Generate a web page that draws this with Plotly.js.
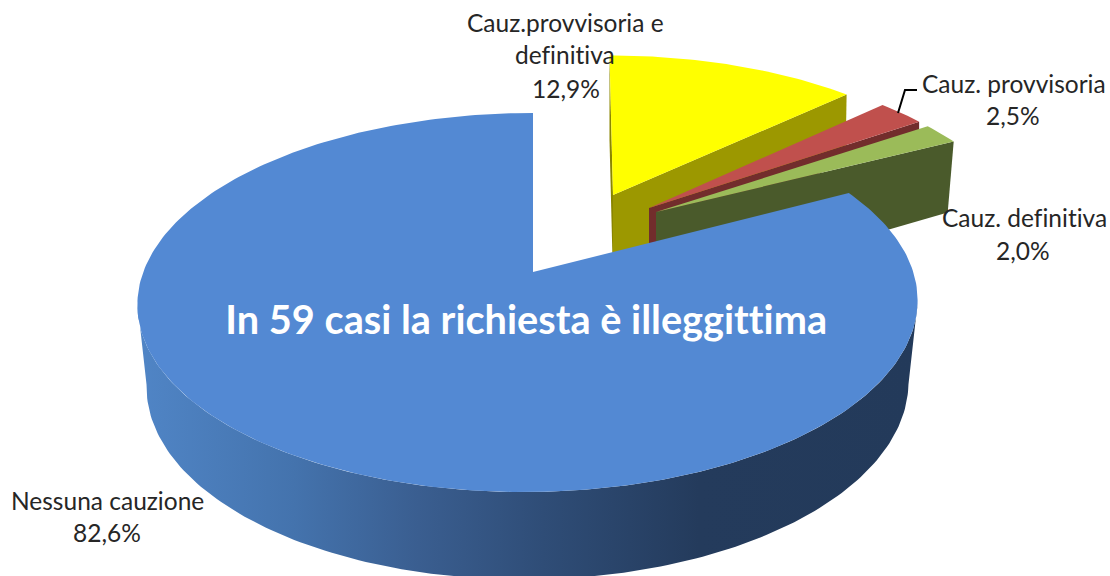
<!DOCTYPE html>
<html>
<head>
<meta charset="utf-8">
<script src="https://cdn.plot.ly/plotly-3.0.1.min.js"></script>
<style>html,body{margin:0;padding:0;background:#fff;overflow:hidden}#chart{width:1110px;height:576px}
#chart text{font-variant-ligatures:none;font-feature-settings:"liga" 0}</style>
</head>
<body>
<div id="chart"></div>
<script>
// ---- data (clockwise from 12 o'clock) ----
const categories = ["Cauz.provvisoria e definitiva", "Cauz. provvisoria", "Cauz. definitiva", "Nessuna cauzione"];
const shares = [12.9, 2.5, 2.0, 82.6];
const centreNote = "In 59 casi la richiesta è illeggittima";

// ---- style and projection settings ----
const topColors = ["#FFFF00", "#C0504D", "#9BBB59", "#5389D3"];
const wallColors = ["#9C9800", "#722D2C", "#4A5A2B", "#233A5A"];
const tilt = 0.161;
const slices = [
  {ax: 613, ay: 195, sx: 362, sy: 162, lean: -0.025, skew: 0, dropNear: 85, dropFar: 60, shiftFar: -1},
  {ax: 649, ay: 208, sx: 358, sy: 166, lean: 0, skew: 0, dropNear: 40, dropFar: 8, shiftFar: 0},
  {ax: 656, ay: 212, sx: 360, sy: 165, lean: 0, skew: 0, dropNear: 85, dropFar: 71, shiftFar: -6},
  {ax: 533, ay: 272, sx: 385, sy: 184.6, lean: 0, skew: -5.5, dropNear: 0, dropFar: 0, shiftFar: 0}
];
const baseDisc = {ax: 533, ay: 353, sx: 376, sy: 190, lean: 0, skew: -5.5};
const wallRamp = [[0, "#5085C6"], [0.2, "#4473AD"], [0.36, "#3A5E90"], [0.52, "#2F4D77"], [0.72, "#243B5C"], [1, "#233A5A"]];
const labelFont = "Lato, 'Open Sans', sans-serif";
const labelSize = 24.5;
const textSpots = [
  [{x: 565, y: 22.5, line: "Cauz.provvisoria e"}, {x: 565, y: 54.5, line: "definitiva"}, {x: 566, y: 88, pct: true}],
  [{x: 1014, y: 83.5, line: "Cauz. provvisoria"}, {x: 1013, y: 115, pct: true}],
  [{x: 1024, y: 217.5, line: "Cauz. definitiva"}, {x: 1023, y: 250, pct: true}],
  [{x: 107, y: 500.5, line: "Nessuna cauzione"}, {x: 107, y: 532, pct: true}]
];
const leader = {x: [898, 905, 917], y: [113, 90, 90]};

// ---- projection: pie angle (degrees clockwise from north) to page position ----
function project(s, deg) {
  const t = deg * Math.PI / 180, X = Math.sin(t), Y = Math.cos(t), d = 1 + tilt * Y;
  const up = s.sy * Y / d;
  return [s.ax + s.sx * X / d + s.lean * up + s.skew * (1 - Y) / 1.16, s.ay - up];
}
function arc(s, from, to) {
  const pts = [], n = Math.max(4, Math.ceil(Math.abs(to - from)));
  for (let i = 0; i <= n; i++) pts.push(project(s, from + (to - from) * i / n));
  return pts;
}
function poly(points, color, extra) {
  return Object.assign({
    type: "scatter", mode: "lines", x: points.map(p => p[0]), y: points.map(p => p[1]),
    fill: "toself", fillcolor: color, line: {width: 0, color: color}, hoverinfo: "skip", showlegend: false
  }, extra || {});
}

const total = shares.reduce((a, b) => a + b, 0);
let running = 0;
const ranges = shares.map(v => {
  const from = running / total * 360; running += v; return [from, running / total * 360];
});

const traces = [];
shares.forEach((v, i) => {
  const s = slices[i], [a0, a1] = ranges[i];
  const apex = [s.ax, s.ay];
  if (i < 3) {
    const end = project(s, a1);
    traces.push(poly([apex, end, [end[0] + s.shiftFar, end[1] + s.dropFar], [apex[0], apex[1] + s.dropNear]], wallColors[i]));
    if (i === 0) {
      const start = project(s, a0);
      traces.push(poly([start, apex, [apex[0], apex[1] + s.dropNear], [start[0], start[1] + s.dropNear]], "#8A8600"));
    }
  } else {
    const front = arc(s, 99.3, 260.7).concat(arc(baseDisc, 260.7, 99.3));
    traces.push(poly(front, wallColors[i], {fillgradient: {type: "horizontal", colorscale: wallRamp, start: 138, stop: 917}}));
  }
  traces.push(poly([apex].concat(arc(s, a0, a1)).concat([apex]), topColors[i]));
});
traces.push({type: "scatter", mode: "lines", x: leader.x, y: leader.y, line: {color: "#000", width: 2}, hoverinfo: "skip", showlegend: false});

const annotations = [];
textSpots.forEach((spots, i) => spots.forEach(sp => annotations.push({
  x: sp.x, y: sp.y, xref: "x", yref: "y", showarrow: false, xanchor: "center", yanchor: "middle",
  text: sp.pct ? shares[i].toFixed(1).replace(".", ",") + "%" : sp.line,
  font: {family: labelFont, size: labelSize, color: "#262626"}
})));
annotations.push({x: 526, y: 318, xref: "x", yref: "y", showarrow: false, xanchor: "center", yanchor: "middle",
  text: "<b>" + centreNote + "</b>", font: {family: labelFont, size: 39.7, color: "#fff"}});

const hidden = {visible: false, fixedrange: true};
Plotly.newPlot("chart", traces, {
  width: 1110, height: 576, margin: {l: 0, r: 0, t: 0, b: 0},
  paper_bgcolor: "#fff", plot_bgcolor: "#fff", showlegend: false,
  xaxis: Object.assign({range: [0, 1110]}, hidden),
  yaxis: Object.assign({range: [576, 0]}, hidden),
  annotations: annotations
}, {displayModeBar: false, staticPlot: true});
</script>
</body>
</html>
